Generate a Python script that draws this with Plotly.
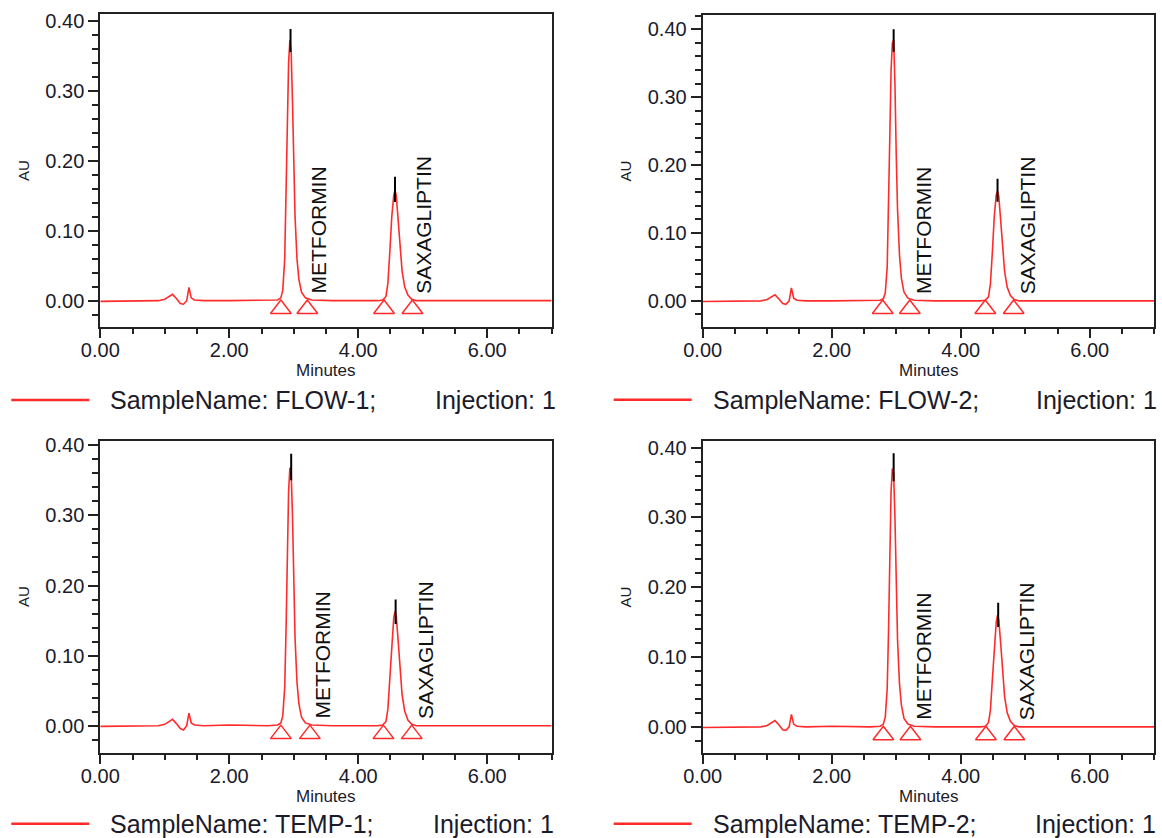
"""HPLC robustness chromatograms: flow and temperature variations, 2x2 grid."""

import plotly.graph_objects as go

# ---- data ----------------------------------------------------------------
TIME_MIN = [0.00, 0.50, 0.90, 1.00, 1.06, 1.12, 1.18, 1.24, 1.29, 1.34, 1.375, 1.41,
            1.46, 1.60, 2.00, 2.60, 2.75, 2.80, 2.83, 2.86, 2.88, 2.90, 2.92, 2.94,
            2.96, 2.98, 3.00, 3.02, 3.05, 3.08, 3.12, 3.18, 3.28, 3.60, 4.30, 4.38,
            4.43, 4.46, 4.49, 4.52, 4.55, 4.57, 4.59, 4.62, 4.65, 4.68, 4.72, 4.77,
            4.83, 4.90, 5.50, 7.00]

AU_FLOW1 = [-0.001, -0.001, 0.000, 0.002, 0.005, 0.009, 0.003, -0.004, -0.005, 0.000, 0.019, 0.004,
            0.001, 0.000, 0.000, 0.000, 0.001, 0.004, 0.015, 0.060, 0.140, 0.250, 0.340, 0.372,
            0.355, 0.285, 0.190, 0.120, 0.060, 0.030, 0.012, 0.004, 0.001, 0.000, 0.000, 0.001,
            0.006, 0.025, 0.070, 0.120, 0.150, 0.158, 0.150, 0.115, 0.075, 0.042, 0.020, 0.008,
            0.002, 0.000, 0.000, 0.000]
AU_FLOW2 = [-0.001, -0.001, 0.000, 0.002, 0.005, 0.009, 0.003, -0.004, -0.005, 0.000, 0.019, 0.004,
            0.001, 0.000, 0.000, 0.000, 0.001, 0.003, 0.012, 0.050, 0.125, 0.240, 0.340, 0.380,
            0.384, 0.320, 0.215, 0.135, 0.068, 0.033, 0.013, 0.004, 0.001, 0.000, 0.000, 0.001,
            0.006, 0.025, 0.072, 0.125, 0.156, 0.162, 0.154, 0.118, 0.077, 0.043, 0.020, 0.008,
            0.002, 0.000, 0.000, 0.000]
AU_TEMP1 = [-0.001, -0.001, 0.000, 0.002, 0.005, 0.009, 0.003, -0.004, -0.006, 0.000, 0.018, 0.004,
            0.001, 0.000, 0.001, 0.000, 0.001, 0.004, 0.014, 0.055, 0.135, 0.245, 0.335, 0.368,
            0.360, 0.300, 0.200, 0.125, 0.062, 0.031, 0.012, 0.004, 0.001, 0.000, 0.000, 0.001,
            0.006, 0.024, 0.068, 0.120, 0.153, 0.163, 0.156, 0.120, 0.078, 0.044, 0.021, 0.008,
            0.002, 0.000, 0.000, 0.000]
AU_TEMP2 = [-0.001, -0.001, 0.000, 0.002, 0.005, 0.009, 0.003, -0.004, -0.005, 0.000, 0.018, 0.004,
            0.001, 0.000, 0.001, 0.000, 0.001, 0.004, 0.014, 0.055, 0.135, 0.245, 0.338, 0.370,
            0.362, 0.300, 0.200, 0.125, 0.062, 0.031, 0.012, 0.004, 0.001, 0.000, 0.000, 0.001,
            0.006, 0.024, 0.068, 0.118, 0.150, 0.160, 0.153, 0.118, 0.076, 0.043, 0.020, 0.008,
            0.002, 0.000, 0.000, 0.000]

SAMPLE_NAMES = ["FLOW-1", "FLOW-2", "TEMP-1", "TEMP-2"]
INJECTIONS = [1, 1, 1, 1]
PEAK_NAMES = ["METFORMIN", "SAXAGLIPTIN"]

# apex marks (black) drawn over each peak top
MET_APEX_MIN = [2.95, 2.96, 2.96, 2.96]
MET_APEX_TOP = [0.388, 0.400, 0.388, 0.392]
MET_APEX_LOW = [0.355, 0.367, 0.350, 0.352]
SAX_APEX_MIN = [4.57, 4.57, 4.58, 4.58]
SAX_APEX_TOP = [0.177, 0.180, 0.180, 0.178]
SAX_APEX_LOW = [0.141, 0.146, 0.145, 0.143]

# integration start / end marks (minutes)
INTEG_MIN = [
    [2.80, 3.21, 4.40, 4.84],
    [2.79, 3.21, 4.38, 4.82],
    [2.80, 3.25, 4.39, 4.83],
    [2.80, 3.22, 4.39, 4.83],
]
# peak label positions (minutes)
LABEL_MIN = [
    [3.38, 5.02],
    [3.42, 5.03],
    [3.44, 5.04],
    [3.42, 5.03],
]

AU_SERIES = [AU_FLOW1, AU_FLOW2, AU_TEMP1, AU_TEMP2]

# ---- styling / layout ----------------------------------------------------
W, H = 1162, 838
_FONT = "Liberation Sans, Arial, sans-serif"
_INK = "#1b1b2a"
_AXIS = "#222222"
_RED = "#ff2b2b"
MARK_AU = -0.012
LABEL_AU = 0.007

# plot boxes in pixels: left, right, top, bottom
PANELS = [
    (100.3, 551.7, 14.3, 327.0),
    (702.7, 1154.3, 15.0, 326.7),
    (100.3, 551.7, 440.7, 752.7),
    (702.7, 1154.3, 440.7, 752.7),
]
Y_RANGES = [
    [-0.0376, 0.409],
    [-0.038, 0.421],
    [-0.0385, 0.4066],
    [-0.037, 0.410],
]
LEGEND_DY = [73, 73, 71, 71]
INJ_DX = [333, 331, 331, 330]


def px(x):
    return x / W


def py(y):
    return 1 - y / H


fig = go.Figure()
annotations = []
shapes = []

for i, (left, right, top, bottom) in enumerate(PANELS):
    k = i + 1
    xa, ya = f"x{k}", f"y{k}"
    xkey = "xaxis" if k == 1 else f"xaxis{k}"
    ykey = "yaxis" if k == 1 else f"yaxis{k}"

    fig.add_trace(go.Scatter(
        x=TIME_MIN, y=AU_SERIES[i], mode="lines",
        line=dict(color=_RED, width=1.6), xaxis=xa, yaxis=ya,
        showlegend=False, hoverinfo="skip",
    ))
    fig.add_trace(go.Scatter(
        x=[MET_APEX_MIN[i], MET_APEX_MIN[i], None, SAX_APEX_MIN[i], SAX_APEX_MIN[i]],
        y=[MET_APEX_LOW[i], MET_APEX_TOP[i], None, SAX_APEX_LOW[i], SAX_APEX_TOP[i]],
        mode="lines", line=dict(color="black", width=2),
        xaxis=xa, yaxis=ya, showlegend=False, hoverinfo="skip",
    ))
    fig.add_trace(go.Scatter(
        x=INTEG_MIN[i], y=[MARK_AU] * len(INTEG_MIN[i]), mode="markers",
        marker=dict(symbol="triangle-up-open", size=18, color=_RED, line=dict(width=1.5, color=_RED)),
        xaxis=xa, yaxis=ya, showlegend=False, hoverinfo="skip",
    ))

    axis_common = dict(
        showline=True, mirror=True, linecolor=_AXIS, linewidth=2,
        ticks="outside", tickcolor=_AXIS, tickwidth=2, automargin=False,
        showgrid=False, zeroline=False, tickformat=".2f",
        tickfont=dict(family=_FONT, size=20, color=_INK),
    )
    fig.update_layout({
        xkey: dict(axis_common, domain=[px(left), px(right)], range=[0, 7], anchor=ya,
                   tick0=0, dtick=2, ticklen=9, ticklabelstandoff=-5,
                   minor=dict(dtick=0.5, tick0=0, ticks="outside", ticklen=5,
                              tickcolor=_AXIS, tickwidth=2)),
        ykey: dict(axis_common, domain=[py(bottom), py(top)], range=Y_RANGES[i], anchor=xa,
                   tick0=0, dtick=0.1, ticklen=10,
                   minor=dict(dtick=0.02, tick0=0, ticks="outside", ticklen=6,
                              tickcolor=_AXIS, tickwidth=2)),
    })

    for name, t in zip(PEAK_NAMES, LABEL_MIN[i]):
        annotations.append(dict(
            x=t, y=LABEL_AU, xref=xa, yref=ya, text=name, textangle=-90,
            showarrow=False, xanchor="center", yanchor="bottom",
            font=dict(family=_FONT, size=21, color="#111111"),
        ))

    annotations.append(dict(
        x=px(left - 77), y=py((top + bottom) / 2), xref="paper", yref="paper",
        text="AU", textangle=-90, showarrow=False, xanchor="center", yanchor="middle",
        font=dict(family=_FONT, size=15, color=_INK),
    ))
    annotations.append(dict(
        x=px((left + right) / 2), y=py(bottom + 44), xref="paper", yref="paper",
        text="Minutes", showarrow=False, xanchor="center", yanchor="middle",
        font=dict(family=_FONT, size=17, color=_INK),
    ))

    leg_y = bottom + LEGEND_DY[i]
    shapes.append(dict(
        type="line", xref="paper", yref="paper",
        x0=px(left - 89), x1=px(left - 11), y0=py(leg_y), y1=py(leg_y),
        line=dict(color=_RED, width=2.5),
    ))
    annotations.append(dict(
        x=px(left + 8), y=py(leg_y), xref="paper", yref="paper",
        text=f"SampleName: {SAMPLE_NAMES[i]};", showarrow=False,
        xanchor="left", yanchor="middle",
        font=dict(family=_FONT, size=25, color=_INK),
    ))
    annotations.append(dict(
        x=px(left + INJ_DX[i]), y=py(leg_y), xref="paper", yref="paper",
        text=f"Injection: {INJECTIONS[i]}", showarrow=False,
        xanchor="left", yanchor="middle",
        font=dict(family=_FONT, size=25, color=_INK),
    ))

fig.update_layout(
    width=W, height=H,
    margin=dict(l=0, r=0, t=0, b=0, pad=0),
    paper_bgcolor="white", plot_bgcolor="white",
    annotations=annotations, shapes=shapes,
    showlegend=False,
)

fig.write_html(
    "out.html",
    config={"displayModeBar": False},
    post_script="document.body.style.margin='0';",
)
